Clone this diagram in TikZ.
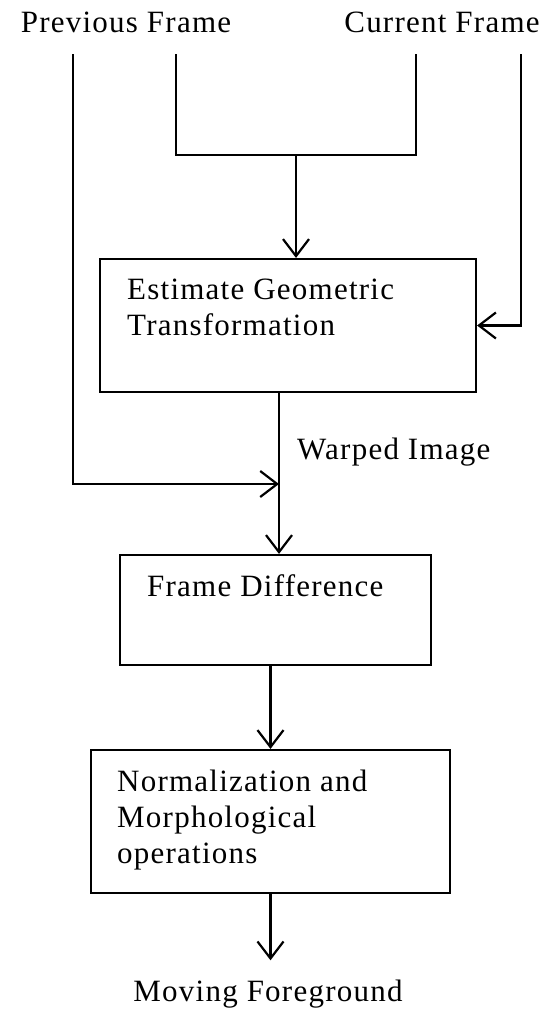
\documentclass[tikz,border=0pt]{standalone}
\usepackage{fontspec}
\setmainfont{Liberation Serif}[LetterSpace=4]
\usetikzlibrary{arrows.meta}

\tikzset{
	blockbox/.style={draw, rectangle, line width=2.2pt, inner sep=0pt},
	boxtext/.style={anchor=north west, align=left, inner sep=0pt, font=\fontsize{31}{36}\selectfont},
	lbl/.style={inner sep=0pt, font=\fontsize{31}{36}\selectfont},
	wire/.style={line width=2.2pt},
	flow/.style={line width=2.2pt, -{Straight Barb[length=17pt, width=26pt, line width=2.2pt]}}
}

\begin{document}
\begin{tikzpicture}[x=1pt, y=-1pt]
		\useasboundingbox (0,0) rectangle (548,1009);
		
		\node [lbl, anchor=base] (prev) at (126,32) {Previous Frame};
		\node [lbl, anchor=base] (curr) at (442,32) {Current Frame};
		
		\coordinate (prevtop) at (73,54);
		\coordinate (previn) at (176,54);
		\coordinate (currin) at (416,54);
		\coordinate (currtop) at (521,54);
		\coordinate (join) at (296,155);
		\coordinate (warp) at (279,484);
		
		\node [blockbox, minimum width=376pt, minimum height=133pt] (estimate) at (288,325.5) {};
		\node [boxtext] (estimatetext) at (127,279) {Estimate Geometric\\Transformation};
		
		\node [blockbox, minimum width=311pt, minimum height=110pt] (diff) at (275.5,610) {};
		\node [boxtext] (difftext) at (147,574) {Frame Difference};
		
		\node [blockbox, minimum width=359pt, minimum height=143pt] (normal) at (270.5,821.5) {};
		\node [boxtext] (normaltext) at (117,770) {Normalization and\\Morphological\\operations};
		
		\node [lbl, anchor=base west] (warped) at (297,459) {Warped Image};
		\node [lbl, anchor=base] (moving) at (268,1001) {Moving Foreground};
		
		% two frames joined into the estimate box
		\draw [wire] (previn) -- (previn |- join) -- (currin |- join) -- (currin);
		\draw [flow] (join) -- (join |- estimate.north);
		\draw [flow] (currtop) -- (currtop |- estimate.east) -- (estimate.east);
		
		% previous frame and warped image
		\draw [flow] (prevtop) -- (prevtop |- warp) -- (warp);
		\draw [flow] (warp |- estimate.south) -- (warp |- diff.north);
		
		\draw [flow] (normal.north |- diff.south) -- (normal.north);
		\draw [flow, shorten >=19pt] (normal.south) -- (normal.south |- moving.north);
		
\end{tikzpicture}
\end{document}
